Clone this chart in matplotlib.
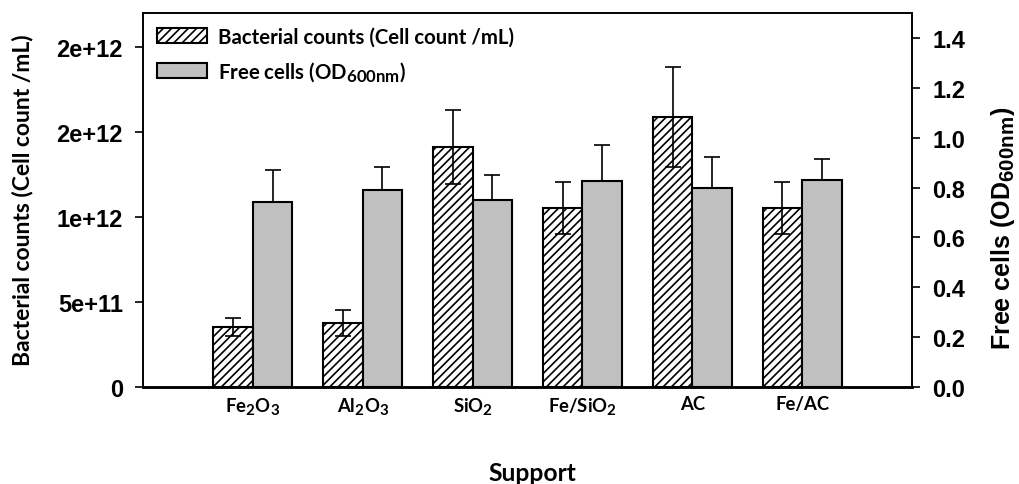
import matplotlib
matplotlib.use("Agg")
import matplotlib.pyplot as plt
import matplotlib._mathtext as mathtext_impl
import numpy as np

# Support materials and measured quantities
supports = [r"Fe$_2$O$_3$", r"Al$_2$O$_3$", r"SiO$_2$", r"Fe/SiO$_2$", "AC", "Fe/AC"]
bacterial_counts = [0.353e12, 0.378e12, 1.412e12, 1.053e12, 1.590e12, 1.053e12]
bacterial_err = [0.053e12, 0.076e12, 0.218e12, 0.155e12, 0.294e12, 0.153e12]
free_cells = [0.741, 0.790, 0.750, 0.828, 0.798, 0.832]
free_err = [0.129, 0.094, 0.099, 0.143, 0.123, 0.083]

left_ticks = [0, 5e11, 1e12, 1.5e12, 2e12]
left_ticklabels = ["0", "5e+11", "1e+12", "2e+12", "2e+12"]
right_ticks = [0.0, 0.2, 0.4, 0.6, 0.8, 1.0, 1.2, 1.4]

# slightly larger subscripts than the mathtext default
mathtext_impl.SHRINK_FACTOR = 0.82
plt.rcParams["mathtext.default"] = "regular"
plt.rcParams["hatch.linewidth"] = 1.2

W, H = 1020, 485
fig = plt.figure(figsize=(W / 100, H / 100), dpi=100)
x0, x1, y0, y1 = 143, 912, 14, 388
ax = fig.add_axes([x0 / W, 1 - y1 / H, (x1 - x0) / W, (y1 - y0) / H])
ax2 = ax.twinx()

x = np.arange(len(supports))
width = 0.36

ebar = dict(ecolor="black", elinewidth=1.2, capsize=5.6, capthick=1.2)
b1 = ax.bar(x - width / 2, bacterial_counts, width, color="white", edgecolor="black",
            hatch="////", linewidth=1.5, zorder=2)
ax.errorbar(x - width / 2, bacterial_counts, yerr=bacterial_err, fmt="none", zorder=3, **ebar)

b2 = ax2.bar(x + width / 2, free_cells, width, color="#c0c0c0", edgecolor="black",
             linewidth=1.5, zorder=2)
ax2.errorbar(x + width / 2, free_cells, yerr=[np.zeros(len(free_err)), free_err],
             fmt="none", zorder=3, **ebar)

ax.set_xlim(-1.0, 6.0)
ax.set_ylim(0, 2.2e12)
ax2.set_ylim(0, 1.5)

tick_font = dict(family="Liberation Sans", weight="bold", size=17)
ax.set_yticks(left_ticks)
ax.set_yticklabels(left_ticklabels, fontdict=tick_font)
ax2.set_yticks(right_ticks)
ax2.set_yticklabels([f"{v:.1f}" for v in right_ticks], fontdict=tick_font)

ax.set_xticks(x)
ax.set_xticklabels(supports, family="Lato", weight="bold", size=13.3)
ax.tick_params(axis="x", length=0, pad=6)
ax.tick_params(axis="y", direction="out", length=5.5, width=1.2, pad=9)
ax2.tick_params(axis="y", direction="out", length=5.5, width=1.2, pad=9)

for a in (ax, ax2):
    for s in a.spines.values():
        s.set_linewidth(1.2)
    a.spines["bottom"].set_linewidth(1.8)

fig.text(23 / W, 1 - 200 / H, "Bacterial counts (Cell count /mL)", rotation=90,
         ha="center", va="center", family="Lato", weight="bold", size=16.5)
fig.text(1003 / W, 1 - 228 / H, "Free cells (OD$_{600nm}$)", rotation=90,
         ha="center", va="center", family="Liberation Sans", weight="bold", size=18)
fig.text(532 / W, 1 - 481 / H, "Support", ha="center", va="baseline",
         family="Lato", weight="bold", size=17.7)

leg = ax2.legend([b1, b2], ["Bacterial counts (Cell count /mL)", "Free cells (OD$_{600nm}$)"],
                 loc="upper left", bbox_to_anchor=(153 / W, 1 - 24 / H),
                 bbox_transform=fig.transFigure, frameon=False,
                 prop=dict(family="Lato", weight="bold", size=14.7),
                 handlelength=2.45, handleheight=0.75, handletextpad=0.55,
                 labelspacing=0.6, borderpad=0.2, borderaxespad=0)

fig.savefig("out.png", dpi=100)
